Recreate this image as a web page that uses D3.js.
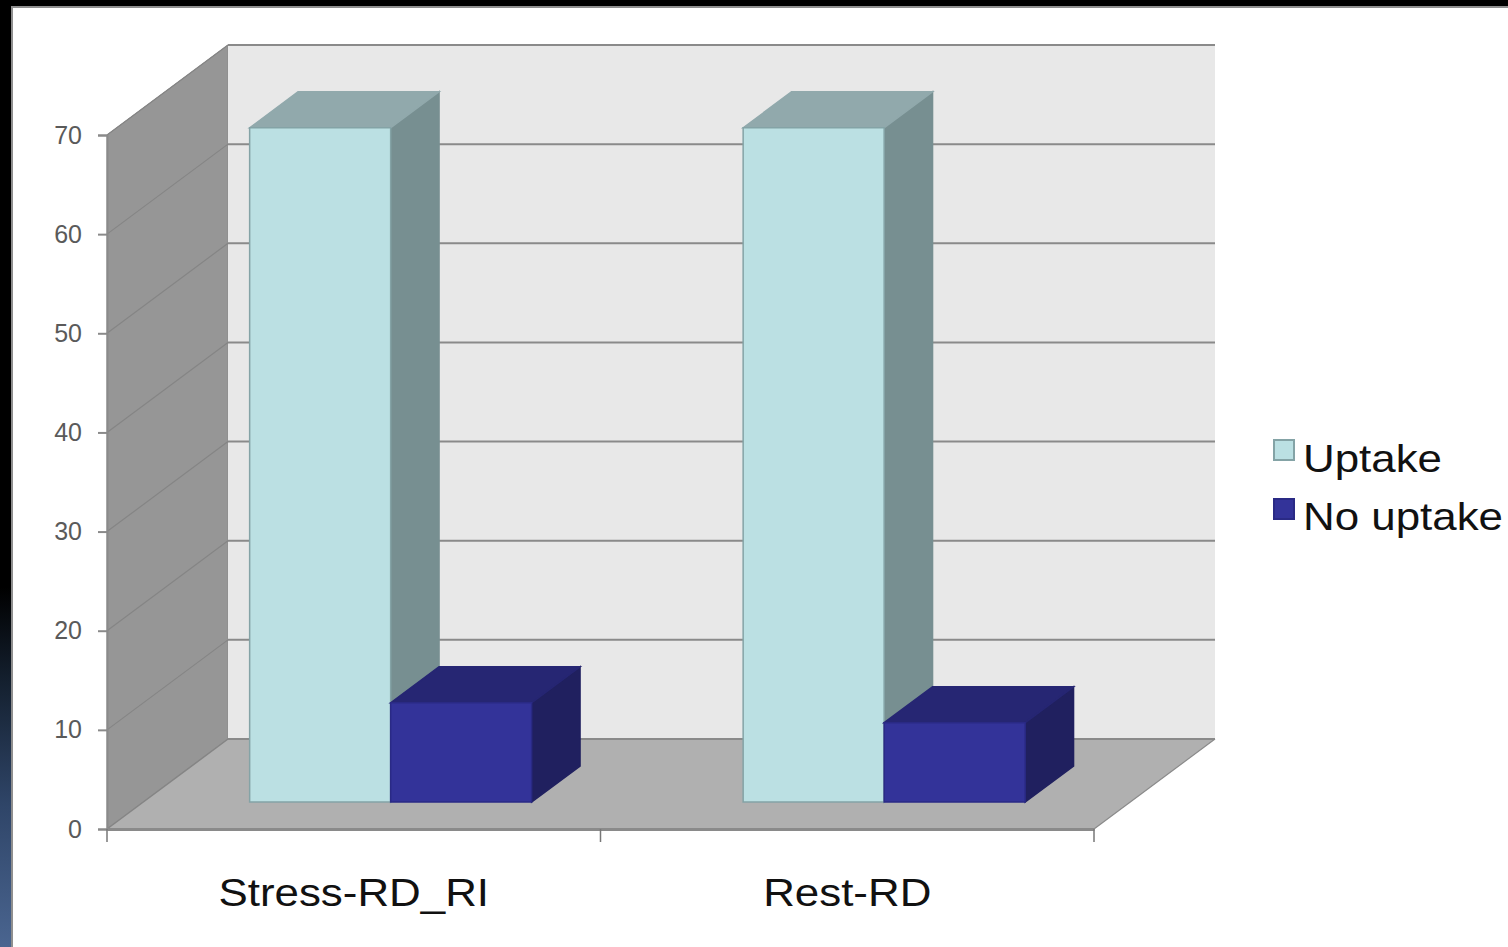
<!DOCTYPE html>
<html>
<head>
<meta charset="utf-8">
<script src="https://cdn.jsdelivr.net/npm/d3@7/dist/d3.min.js"></script>
<style>
  html, body { margin: 0; padding: 0; background: #000; overflow: hidden; }
  svg { display: block; }
  text { font-family: "Liberation Sans", Arial, sans-serif; }
</style>
</head>
<body>
<svg id="chart" width="1508" height="947"></svg>
<script>
const categories = ["Stress-RD_RI", "Rest-RD"];
const seriesNames = ["Uptake", "No uptake"];
const uptake = [68, 68];
const noUptake = [10, 8];
const yTicks = [0, 10, 20, 30, 40, 50, 60, 70];
const seriesValues = [uptake, noUptake];

const faceFront = ["#bbe0e3", "#333399"];
const faceTop = ["#91a9ac", "#262673"];
const faceSide = ["#778f91", "#20205f"];
const faceEdge = ["#84a3a6", "#2a2a85"];

const svg = d3.select("#chart");
const W = 1508, H = 947;

// Window backdrop: dark frame fading to slate blue towards the lower left
const defs = svg.append("defs");
const fade = defs.append("linearGradient").attr("id", "frameFade")
  .attr("x1", 0).attr("y1", 0).attr("x2", 0).attr("y2", 1);
[[0, "#000000"], [0.62, "#000000"], [0.72, "#14202f"], [0.85, "#2f4568"], [1, "#4a6590"]]
  .forEach(([o, c]) => fade.append("stop").attr("offset", o).attr("stop-color", c));
svg.append("rect").attr("width", W).attr("height", H).attr("fill", "url(#frameFade)");
svg.append("rect").attr("x", 0).attr("y", 0).attr("width", W).attr("height", 6).attr("fill", "#000");
svg.append("rect").attr("x", 11).attr("y", 6).attr("width", W - 11).attr("height", H - 6).attr("fill", "#8f8f8f");
svg.append("rect").attr("x", 13).attr("y", 8).attr("width", W - 13).attr("height", H - 8).attr("fill", "#fff");

// Scales: value height, category band, series band, and the depth projection
const y = d3.scaleLinear().domain([0, 70]).range([829, 135]);
const x = d3.scaleBand().domain(categories).range([107, 1094]);
const xSeries = d3.scaleBand().domain(seriesNames).range([0, x.bandwidth()]).paddingInner(0).paddingOuter(0.75);
const depthX = d3.scaleLinear().domain([0, 1]).range([0, 121]);
const depthY = d3.scaleLinear().domain([0, 1]).range([0, -90]);
const pt = (px, v, d) => [px + depthX(d), y(v) + depthY(d)];
const poly = pts => pts.map(p => p.join(",")).join(" ");

const [x0, x1] = x.range();
const vMax = y.domain()[1];

// Side wall, back wall and floor
svg.append("polygon").attr("fill", "#969696").attr("stroke", "#8a8a8a").attr("stroke-width", 1)
  .attr("points", poly([pt(x0, 0, 0), pt(x0, vMax, 0), pt(x0, vMax, 1), pt(x0, 0, 1)]));
svg.append("polygon").attr("fill", "#e8e8e8")
  .attr("points", poly([pt(x0, 0, 1), pt(x0, vMax, 1), pt(x1, vMax, 1), pt(x1, 0, 1)]));
svg.append("polygon").attr("fill", "#b0b0b0")
  .attr("points", poly([pt(x0, 0, 0), pt(x0, 0, 1), pt(x1, 0, 1), pt(x1, 0, 0)]));

// Gridlines running along the side wall and across the back wall
const grid = svg.append("g").attr("fill", "none");
yTicks.forEach(t => {
  const a = pt(x0, t, 0), b = pt(x0, t, 1), c = pt(x1, t, 1);
  grid.append("line").attr("x1", a[0]).attr("y1", a[1]).attr("x2", b[0]).attr("y2", b[1])
    .attr("stroke", "#858585").attr("stroke-width", t === 0 ? 1.5 : 1.2);
  grid.append("line").attr("x1", b[0]).attr("y1", b[1]).attr("x2", c[0]).attr("y2", c[1])
    .attr("stroke", "#8a8a8a").attr("stroke-width", 2);
});
// Floor's right edge
{
  const a = pt(x1, 0, 0), b = pt(x1, 0, 1);
  grid.append("line").attr("x1", a[0]).attr("y1", a[1]).attr("x2", b[0]).attr("y2", b[1])
    .attr("stroke", "#8a8a8a").attr("stroke-width", 1.2);
}

// Bars as three-faced boxes, sitting part way into the floor
const dFront = 0.3, dBack = 0.7;
const bars = svg.append("g").attr("transform", "translate(0.6,0)");
categories.forEach((cat, ci) => {
  seriesNames.forEach((name, si) => {
    const v = seriesValues[si][ci];
    const l = x(cat) + xSeries(name);
    const r = l + xSeries.bandwidth();
    const g = bars.append("g").attr("stroke-width", 1.5).attr("stroke-linejoin", "miter");
    g.append("polygon").attr("fill", faceSide[si]).attr("stroke", faceSide[si])
      .attr("points", poly([pt(r, 0, dFront), pt(r, v, dFront), pt(r, v, dBack), pt(r, 0, dBack)]));
    g.append("polygon").attr("fill", faceTop[si]).attr("stroke", faceTop[si])
      .attr("points", poly([pt(l, v, dFront), pt(l, v, dBack), pt(r, v, dBack), pt(r, v, dFront)]));
    g.append("polygon").attr("fill", faceFront[si]).attr("stroke", faceEdge[si])
      .attr("points", poly([pt(l, 0, dFront), pt(l, v, dFront), pt(r, v, dFront), pt(r, 0, dFront)]));
  });
});

// Value axis
const yAxis = svg.append("g").attr("transform", `translate(${x0},0)`)
  .call(d3.axisLeft(y).tickValues(yTicks).tickSize(9).tickPadding(16));
yAxis.selectAll("path").attr("stroke", "#8a8a8a").attr("stroke-width", 2);
yAxis.selectAll("line").attr("stroke", "#8a8a8a").attr("stroke-width", 2);
yAxis.selectAll("text").attr("font-size", 25).attr("fill", "#5a5a5a")
  .attr("font-family", "'Liberation Sans', Arial, sans-serif");

// Category axis with ticks on the band boundaries; labels are set in a widened face
const wide = 1.14;
const xAxis = svg.append("g").attr("transform", `translate(0,${y(0)})`)
  .call(d3.axisBottom(x).tickSize(0).tickPadding(50));
xAxis.select("path").attr("stroke", "#8a8a8a").attr("stroke-width", 3);
xAxis.selectAll("text").attr("font-size", 38.5).attr("fill", "#111")
  .attr("transform", `scale(${wide},1)`)
  .attr("font-family", "'Liberation Sans', Arial, sans-serif");
const boundaries = categories.map(c => x(c)).concat(x1);
svg.append("g").selectAll("line").data(boundaries).join("line")
  .attr("x1", d => d).attr("x2", d => d)
  .attr("y1", y(0)).attr("y2", y(0) + 13)
  .attr("stroke", "#777").attr("stroke-width", 1.5);

// Legend
const legend = svg.append("g").selectAll("g").data(seriesNames).join("g")
  .attr("transform", (d, i) => `translate(1274,${440 + i * 59})`);
legend.append("rect").attr("width", 20).attr("height", 20)
  .attr("fill", (d, i) => faceFront[i])
  .attr("stroke", (d, i) => faceEdge[i]).attr("stroke-width", 2);
legend.append("text")
  .attr("transform", (d, i) => `translate(29,${32 - i}) scale(${wide},1)`)
  .attr("font-size", 38.5).attr("fill", "#111").text(d => d);
</script>
</body>
</html>
